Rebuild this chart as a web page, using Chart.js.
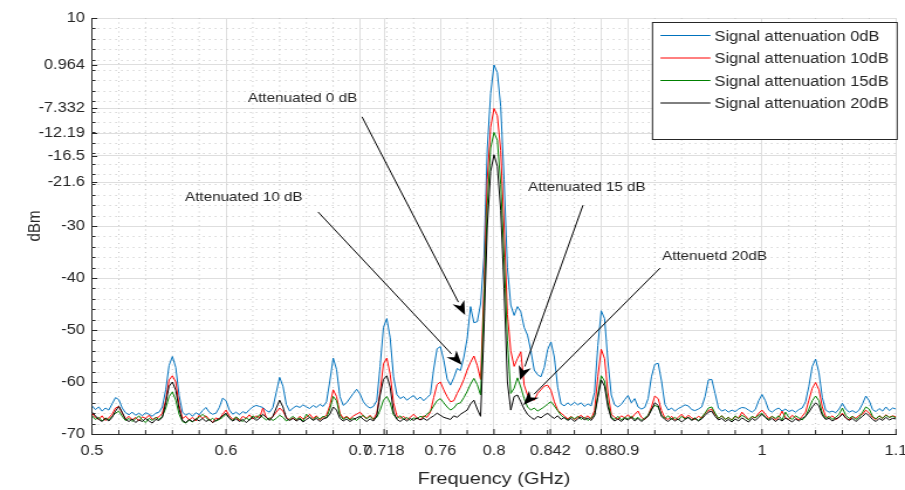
<!DOCTYPE html>
<html>
<head>
<meta charset="utf-8">
<script src="https://cdn.jsdelivr.net/npm/chart.js@4.4.1/dist/chart.umd.min.js"></script>
<style>
  body { margin: 0; background: #fff; overflow: hidden; }
  /* the reference figure is stretched horizontally (~1.17x), so draw narrow and stretch */
  #wrap { width: 773px; height: 490px; transform: scaleX(1.17076); transform-origin: 0 0; }
</style>
</head>
<body>
<div id="wrap"><canvas id="myChart"></canvas></div>
<script>
// sample grid: 0.5 .. 1.1 GHz, step 0.0025 (241 points)
var freq = [];
for (var i = 0; i <= 240; i++) freq.push(+(0.5 + i * 0.0025).toFixed(4));

// dBm values, 20 points (0.05 GHz) per row
var att0 = [
  -64.6, -65.3, -64.8, -65.6, -65.0, -65.4, -64.2, -63.0, -63.4, -65.0, -65.9, -66.3, -65.8, -66.4, -66.0, -66.5, -65.9, -66.2, -66.6, -66.0,
  -65.8, -64.8, -61.5, -56.8, -55.1, -57.2, -62.6, -65.8, -66.4, -66.0, -66.6, -65.9, -66.3, -65.5, -64.9, -65.8, -66.2, -66.0, -64.9, -63.1,
  -63.6, -65.4, -66.2, -65.8, -66.3, -65.7, -66.0, -65.3, -64.8, -64.5, -64.7, -64.9, -65.5, -65.8, -64.9, -62.0, -59.1, -60.8, -64.3, -65.6,
  -65.0, -64.6, -64.9, -64.4, -64.8, -65.1, -64.5, -64.9, -64.3, -64.7, -63.8, -59.8, -55.4, -57.6, -62.8, -64.5, -64.0, -63.1, -62.2, -61.4,
  -62.3, -63.8, -64.6, -65.0, -64.7, -63.6, -57.0, -49.5, -47.8, -51.5, -59.0, -62.4, -63.2, -62.8, -63.5, -63.0, -62.6, -63.4, -62.9, -63.6,
  -63.0, -62.4, -57.5, -53.6, -53.2, -55.8, -59.4, -60.6, -59.2, -57.4, -57.8, -55.2, -51.6, -45.5, -48.6, -48.4, -45.0, -36.0, -15.0, -4.5,
  0.96, -0.5, -7.0, -21.0, -38.0, -45.2, -47.2, -45.5, -46.5, -49.5, -51.0, -54.0, -57.7, -58.6, -59.0, -57.2, -53.8, -52.3, -55.2, -61.0,
  -64.2, -64.6, -64.0, -64.5, -63.9, -64.4, -64.0, -64.7, -64.2, -64.6, -62.0, -53.0, -46.3, -47.8, -56.0, -62.5, -64.4, -64.8, -64.3, -63.4,
  -62.6, -64.0, -63.2, -64.8, -65.2, -64.9, -63.2, -59.0, -56.6, -56.4, -59.8, -64.3, -65.4, -65.0, -65.6, -65.1, -64.8, -64.4, -64.6, -65.3,
  -65.5, -65.2, -64.8, -62.8, -59.6, -59.5, -62.2, -65.0, -65.6, -65.3, -65.8, -65.4, -65.7, -65.2, -64.9, -65.0, -65.4, -65.8, -65.3, -63.6,
  -62.4, -63.6, -65.4, -65.8, -65.3, -65.0, -65.6, -65.2, -65.7, -65.4, -65.8, -65.3, -65.0, -63.8, -60.8, -57.0, -55.6, -58.2, -63.0, -65.4,
  -65.8, -65.6, -65.9, -65.2, -64.1, -65.2, -65.8, -65.5, -65.9, -65.4, -64.2, -62.7, -63.6, -65.3, -65.7, -65.1, -65.6, -64.8, -65.5, -65.0,
  -65.2
];
var att10 = [
  -66.0, -66.8, -67.2, -66.5, -67.4, -66.9, -66.2, -65.0, -64.7, -66.0, -67.1, -66.6, -67.3, -66.8, -67.5, -66.7, -67.0, -66.4, -67.2, -66.9,
  -66.7, -66.0, -63.5, -59.6, -58.8, -60.0, -64.5, -67.0, -66.6, -67.3, -66.8, -67.5, -66.4, -67.0, -66.5, -67.2, -67.8, -66.9, -67.2, -66.2,
  -65.4, -66.5, -67.2, -66.8, -67.4, -66.6, -67.0, -66.3, -67.1, -66.5, -66.9, -65.0, -66.8, -67.2, -66.6, -65.8, -65.0, -65.6, -66.8, -67.3,
  -66.9, -67.4, -66.6, -67.1, -66.8, -66.2, -67.0, -66.5, -67.3, -66.8, -66.4, -64.5, -61.5, -62.8, -66.0, -67.0, -66.6, -67.1, -66.5, -66.2,
  -65.8, -66.6, -67.0, -66.4, -67.2, -66.0, -62.0, -56.5, -55.4, -58.5, -64.0, -66.5, -67.0, -66.6, -67.2, -66.8, -66.2, -66.9, -67.3, -66.5,
  -66.8, -65.8, -63.0, -60.5, -60.0, -61.5, -62.8, -63.8, -63.6, -62.2, -61.0, -59.5, -57.7, -56.2, -55.0, -56.8, -59.5, -42.0, -21.0, -11.0,
  -7.4, -8.8, -15.5, -30.0, -47.0, -54.0, -57.0, -55.5, -54.2, -60.6, -62.5, -63.2, -63.5, -62.2, -61.5, -60.8, -60.6, -61.6, -63.8, -65.4,
  -66.0, -66.5, -67.1, -66.6, -67.2, -66.8, -66.4, -67.0, -66.5, -67.1, -65.5, -59.0, -53.7, -55.5, -62.0, -66.2, -66.8, -67.2, -66.5, -66.9,
  -66.3, -67.0, -66.2, -65.6, -66.8, -67.2, -66.5, -64.8, -62.7, -63.2, -65.5, -66.9, -67.2, -66.6, -67.3, -66.8, -66.2, -67.0, -66.4, -66.9,
  -67.2, -66.6, -66.9, -66.0, -65.5, -65.2, -66.2, -67.0, -66.5, -67.2, -66.8, -67.3, -66.6, -67.0, -65.8, -66.5, -67.2, -66.7, -66.9, -66.0,
  -65.4, -66.2, -67.0, -66.6, -67.3, -66.8, -65.6, -66.9, -67.2, -66.4, -66.9, -67.3, -66.6, -65.8, -63.5, -61.2, -60.1, -61.5, -64.8, -66.6,
  -67.0, -66.5, -67.2, -66.8, -66.0, -66.9, -67.3, -66.6, -67.0, -66.4, -66.2, -65.4, -66.0, -66.8, -67.2, -66.5, -67.0, -66.3, -66.8, -66.5,
  -66.7
];
var att15 = [
  -66.5, -67.2, -66.8, -67.5, -66.9, -67.3, -66.6, -66.0, -65.6, -66.6, -67.4, -67.0, -67.6, -67.1, -66.5, -67.3, -67.8, -67.0, -67.4, -66.8,
  -67.2, -66.6, -65.0, -62.8, -61.9, -63.5, -66.2, -67.6, -67.9, -67.3, -67.7, -67.1, -66.8, -66.2, -66.8, -67.4, -67.0, -67.5, -67.2, -66.8,
  -66.2, -66.9, -67.4, -66.7, -67.2, -67.6, -66.9, -67.3, -66.5, -67.0, -66.3, -66.8, -67.3, -66.9, -67.4, -67.0, -66.4, -66.8, -67.5, -67.1,
  -66.6, -67.2, -66.9, -67.5, -66.2, -66.8, -67.3, -66.7, -67.1, -66.6, -66.9, -65.2, -62.8, -63.6, -66.4, -67.2, -66.7, -67.3, -66.9, -67.4,
  -66.8, -66.4, -67.1, -66.6, -67.2, -66.8, -65.4, -63.5, -62.8, -64.0, -66.3, -67.0, -66.5, -67.2, -66.8, -67.4, -66.9, -67.1, -66.6, -66.8,
  -66.2, -65.6, -64.6, -63.6, -63.2, -64.0, -64.8, -65.4, -65.0, -64.2, -64.0, -63.0, -61.8, -60.4, -59.3, -60.5, -62.5, -45.0, -26.0, -15.0,
  -12.0, -13.5, -22.0, -36.0, -52.0, -62.2, -61.2, -59.2, -61.0, -63.2, -64.8, -65.4, -65.0, -65.6, -65.2, -64.8, -64.2, -63.8, -64.6, -65.5,
  -66.4, -66.9, -67.3, -66.7, -67.1, -66.6, -67.2, -66.8, -67.4, -66.9, -66.3, -62.5, -58.8, -59.8, -64.0, -66.8, -67.2, -66.6, -67.3, -66.8,
  -67.1, -66.6, -67.2, -66.8, -67.4, -66.9, -66.4, -65.2, -64.5, -64.8, -66.4, -67.0, -66.5, -67.2, -66.8, -67.3, -66.6, -67.1, -66.8, -67.3,
  -66.9, -67.4, -66.8, -66.0, -65.0, -64.8, -66.0, -67.0, -66.5, -67.2, -66.8, -67.4, -66.5, -67.0, -66.4, -66.8, -67.3, -66.6, -66.9, -66.4,
  -66.0, -66.8, -67.2, -66.6, -67.0, -66.5, -67.3, -65.8, -66.8, -67.2, -66.5, -66.9, -67.3, -66.6, -65.2, -63.6, -62.7, -63.6, -66.0, -67.0,
  -66.6, -67.2, -66.8, -66.2, -65.0, -66.4, -67.0, -66.6, -67.2, -66.8, -65.8, -64.8, -65.2, -66.6, -67.1, -66.5, -67.0, -66.4, -66.8, -66.6,
  -66.9
];
var att20 = [
  -65.8, -66.5, -67.2, -67.6, -67.0, -67.5, -66.8, -65.6, -64.7, -65.8, -67.2, -67.6, -67.1, -67.8, -67.3, -67.6, -67.0, -67.5, -67.9, -67.2,
  -67.4, -66.8, -64.0, -60.8, -60.0, -61.6, -65.2, -67.4, -67.8, -67.2, -67.6, -67.1, -67.5, -67.0, -67.6, -67.2, -67.8, -67.4, -67.0, -66.5,
  -66.0, -67.0, -67.5, -67.1, -67.6, -67.2, -67.8, -67.3, -66.8, -67.4, -67.0, -66.2, -66.8, -67.4, -66.6, -65.0, -63.5, -64.8, -67.0, -67.4,
  -67.0, -67.5, -67.1, -67.7, -67.2, -66.8, -67.4, -67.0, -67.6, -67.1, -66.9, -66.2, -64.8, -65.4, -67.0, -67.5, -67.1, -67.6, -67.2, -66.9,
  -66.6, -67.2, -67.6, -67.1, -67.5, -66.5, -62.5, -59.5, -58.8, -61.0, -65.8, -67.2, -67.6, -67.1, -67.5, -67.0, -67.4, -66.9, -67.3, -67.0,
  -67.4, -66.9, -66.5, -66.0, -66.4, -66.8, -67.0, -67.2, -66.5, -66.8, -66.2, -65.8, -65.4, -64.2, -63.5, -65.2, -66.6, -50.0, -30.0, -19.5,
  -16.3, -18.5, -27.0, -42.0, -60.0, -65.4, -62.8, -62.5, -63.8, -65.2, -66.2, -66.8, -67.2, -66.6, -66.9, -66.4, -66.0, -66.6, -67.0, -66.5,
  -67.2, -66.8, -67.4, -67.0, -67.6, -67.1, -66.7, -67.3, -66.9, -67.4, -66.5, -63.0, -59.6, -60.8, -64.8, -67.0, -67.5, -67.1, -67.6, -67.0,
  -67.3, -66.8, -67.5, -67.0, -67.6, -67.1, -66.6, -65.4, -64.0, -64.5, -66.6, -67.2, -67.6, -67.0, -67.5, -67.1, -67.7, -67.2, -66.8, -67.4,
  -67.0, -67.5, -67.1, -66.4, -65.8, -65.6, -66.6, -67.3, -67.0, -67.6, -67.2, -67.7, -67.1, -67.5, -66.9, -67.3, -67.7, -67.0, -67.4, -66.8,
  -66.2, -66.8, -67.4, -67.0, -67.6, -67.1, -67.5, -66.9, -67.3, -67.7, -67.1, -67.5, -67.0, -66.6, -65.8, -64.8, -64.0, -64.6, -66.4, -67.2,
  -67.0, -67.5, -67.1, -66.8, -66.2, -66.9, -67.4, -67.0, -67.6, -67.1, -66.6, -66.0, -66.5, -67.2, -67.6, -67.0, -67.4, -66.8, -67.3, -67.0,
  -67.1
];

var seriesNames = ["Signal attenuation 0dB", "Signal attenuation 10dB", "Signal attenuation 15dB", "Signal attenuation 20dB"];
var seriesColors = ["#0072bd", "#ff0000", "#008000", "#000000"];

// labelled ticks
var xTicks = [0.5, 0.6, 0.7, 0.718, 0.76, 0.8, 0.842, 0.88, 0.9, 1, 1.1];
var yTicks = [10, 0.964, -7.332, -12.19, -16.5, -21.6, -30, -40, -50, -60, -70];

// minor grid every 0.02 GHz / 2 dB
var xMinor = [];
for (var k = 0; k <= 30; k++) xMinor.push(+(0.5 + k * 0.02).toFixed(3));
var yMinor = [];
for (var m = -70; m <= 10; m += 2) yMinor.push(m);

var notes = [
  { text: "Attenuated 0 dB", tx: 0.6164, ty: -5.4, x0: 0.7015, y0: -9.0, x1: 0.7784, y1: -47.1 },
  { text: "Attenuated 10 dB", tx: 0.5694, ty: -24.6, x0: 0.6687, y0: -27.3, x1: 0.7759, y1: -56.7 },
  { text: "Attenuated 15 dB", tx: 0.8254, ty: -22.5, x0: 0.8664, y0: -26.0, x1: 0.8194, y1: -59.6 },
  { text: "Attenuetd 20dB", tx: 0.9254, ty: -35.8, x0: 0.9239, y0: -38.1, x1: 0.8219, y1: -64.4 }
];

var FONT = '"Liberation Sans", Arial, Helvetica, sans-serif';
var TXT = "#262626";

var matlabLook = {
  id: "matlabLook",
  beforeDatasetsDraw: function (chart) {
    var ctx = chart.ctx, a = chart.chartArea, xs = chart.scales.x, ys = chart.scales.y;
    ctx.save();
    ctx.strokeStyle = "#c4c4c4";
    ctx.lineWidth = 1;
    ctx.setLineDash([1, 3.5]);
    xMinor.forEach(function (v) {
      if (xTicks.indexOf(v) >= 0) return;
      var px = xs.getPixelForValue(v);
      ctx.beginPath(); ctx.moveTo(px, a.top); ctx.lineTo(px, a.bottom); ctx.stroke();
    });
    ctx.setLineDash([1, 4]);
    yMinor.forEach(function (v) {
      if (yTicks.indexOf(v) >= 0) return;
      var py = Math.round(ys.getPixelForValue(v)) + 0.5;
      ctx.beginPath(); ctx.moveTo(a.left, py); ctx.lineTo(a.right, py); ctx.stroke();
    });
    ctx.restore();
  },
  afterDraw: function (chart) {
    var ctx = chart.ctx, a = chart.chartArea, xs = chart.scales.x, ys = chart.scales.y;
    ctx.save();
    ctx.setLineDash([]);
    ctx.strokeStyle = TXT;
    ctx.lineWidth = 1;
    // inward tick marks
    xMinor.concat([0.718, 0.842]).forEach(function (v) {
      var px = xs.getPixelForValue(v);
      var len = xTicks.indexOf(v) >= 0 ? 5 : 4;
      ctx.beginPath(); ctx.moveTo(px, a.bottom); ctx.lineTo(px, a.bottom - len); ctx.stroke();
    });
    yMinor.concat([0.964, -7.332, -12.19, -16.5, -21.6]).forEach(function (v) {
      var py = Math.round(ys.getPixelForValue(v)) + 0.5;
      var len = yTicks.indexOf(v) >= 0 ? 4.5 : 3;
      ctx.beginPath(); ctx.moveTo(a.left, py); ctx.lineTo(a.left + len, py); ctx.stroke();
    });

    // annotations with arrows
    ctx.font = "13px " + FONT;
    ctx.textBaseline = "middle";
    ctx.textAlign = "left";
    notes.forEach(function (n) {
      ctx.fillStyle = TXT;
      ctx.fillText(n.text, xs.getPixelForValue(n.tx), ys.getPixelForValue(n.ty));
      var x0 = xs.getPixelForValue(n.x0), y0 = ys.getPixelForValue(n.y0);
      var x1 = xs.getPixelForValue(n.x1), y1 = ys.getPixelForValue(n.y1);
      var ang = Math.atan2(y1 - y0, x1 - x0);
      var hl = 14, hw = 5.5;
      var bx = x1 - hl * Math.cos(ang), by = y1 - hl * Math.sin(ang);
      ctx.strokeStyle = "#000";
      ctx.beginPath(); ctx.moveTo(x0, y0); ctx.lineTo(bx, by); ctx.stroke();
      var nx = -Math.sin(ang), ny = Math.cos(ang);
      var cx = x1 - 0.7 * hl * Math.cos(ang), cy = y1 - 0.7 * hl * Math.sin(ang);
      ctx.fillStyle = "#000";
      ctx.beginPath();
      ctx.moveTo(x1, y1);
      ctx.lineTo(bx + nx * hw, by + ny * hw);
      ctx.lineTo(cx, cy);
      ctx.lineTo(bx - nx * hw, by - ny * hw);
      ctx.closePath();
      ctx.fill();
    });

    // legend box
    var lw = 209, lh = 117;
    var lx = a.right - 208, ly = Math.round(a.top) + 4;
    ctx.fillStyle = "#fff";
    ctx.fillRect(lx, ly, lw, lh);
    ctx.strokeStyle = TXT;
    ctx.strokeRect(lx, ly + 0.5, lw, lh);
    ctx.font = "14px " + FONT;
    seriesNames.forEach(function (name, i) {
      var yy = ly + 13 + i * 22.5;
      ctx.strokeStyle = seriesColors[i];
      ctx.beginPath(); ctx.moveTo(lx + 6.8, yy + 0.5); ctx.lineTo(lx + 49.5, yy + 0.5); ctx.stroke();
      ctx.fillStyle = TXT;
      ctx.fillText(name, lx + 53, yy + 2);
    });
    ctx.restore();
  }
};

var ctx = document.getElementById("myChart").getContext("2d");
var myChart = new Chart(ctx, {
  type: "line",
  data: {
    labels: freq,
    datasets: [
      { label: seriesNames[0], data: att0, borderColor: seriesColors[0], order: 3 },
      { label: seriesNames[1], data: att10, borderColor: seriesColors[1], order: 2 },
      { label: seriesNames[2], data: att15, borderColor: seriesColors[2], order: 1 },
      { label: seriesNames[3], data: att20, borderColor: seriesColors[3], order: 0 }
    ]
  },
  options: {
    responsive: true,
    maintainAspectRatio: false,
    animation: false,
    layout: { padding: { left: 0, right: 7.7, top: 18, bottom: 0 } },
    elements: {
      point: { radius: 0 },
      line: { borderWidth: 1, tension: 0 }
    },
    plugins: {
      legend: { display: false },
      tooltip: { enabled: false }
    },
    scales: {
      x: {
        type: "linear",
        min: 0.5,
        max: 1.1,
        afterBuildTicks: function (s) {
          s.ticks = xTicks.map(function (v) { return { value: v }; });
        },
        afterFit: function (s) {
          s.height = 56;
          s.paddingLeft = 0;
          s.paddingRight = 0;
        },
        ticks: {
          autoSkip: false,
          maxRotation: 0,
          padding: 9,
          color: TXT,
          font: { family: FONT, size: 14 },
          callback: function (v) { return String(+Number(v).toFixed(3)); }
        },
        grid: { color: "#dedede", drawTicks: false },
        border: { display: true, color: TXT },
        title: {
          display: true,
          text: "Frequency (GHz)",
          color: TXT,
          font: { family: FONT, size: 17 },
          padding: { top: 1, bottom: 0 }
        }
      },
      y: {
        min: -70,
        max: 10,
        afterBuildTicks: function (s) {
          s.ticks = yTicks.map(function (v) { return { value: v }; });
        },
        afterFit: function (s) { s.width = 78.6; },
        ticks: {
          autoSkip: false,
          padding: 6,
          color: TXT,
          font: { family: FONT, size: 14 },
          callback: function (v) { return String(v); }
        },
        grid: { color: "#dedede", drawTicks: false },
        border: { display: true, color: TXT },
        title: {
          display: true,
          text: "dBm",
          color: TXT,
          font: { family: FONT, size: 15 },
          padding: { top: 21, bottom: 0 }
        }
      }
    }
  },
  plugins: [matlabLook]
});
</script>
</body>
</html>
